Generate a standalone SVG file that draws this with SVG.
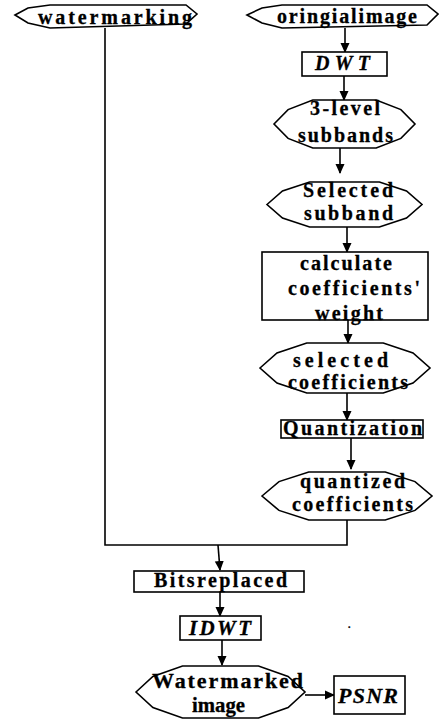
<svg xmlns="http://www.w3.org/2000/svg" width="439" height="720" viewBox="0 0 439 720">
<style>
.s{fill:#fff;stroke:#000;stroke-width:1.6}
.t{font-family:"Liberation Serif","Times New Roman",serif;font-weight:bold;font-size:20px;fill:#000;stroke:#000;stroke-width:0.3}
.i{font-style:italic}
.c{fill:none;stroke:#000;stroke-width:1.6}
</style>
<defs>
<marker id="ah" markerUnits="userSpaceOnUse" markerWidth="10" markerHeight="10" refX="9" refY="5" orient="auto">
<path d="M0,0.5 L10,5 L0,9.5 Z" fill="#000"/>
</marker>
</defs>
<rect width="439" height="720" fill="#fff"/>
<g id="connectors">
<line class="c" x1="345" y1="28" x2="345" y2="52" marker-end="url(#ah)"/>
<line class="c" x1="344" y1="76" x2="344" y2="100" marker-end="url(#ah)"/>
<line class="c" x1="340" y1="148" x2="340" y2="173" marker-end="url(#ah)"/>
<line class="c" x1="347" y1="227" x2="347" y2="252" marker-end="url(#ah)"/>
<line class="c" x1="348" y1="320" x2="348" y2="343" marker-end="url(#ah)"/>
<line class="c" x1="347" y1="393" x2="347" y2="420" marker-end="url(#ah)"/>
<line class="c" x1="351" y1="438" x2="351" y2="469" marker-end="url(#ah)"/>
<polyline class="c" points="347,520 347,545 105,545 105,28"/>
<line class="c" x1="218" y1="545" x2="220" y2="570" marker-end="url(#ah)"/>
<line class="c" x1="220" y1="592" x2="220" y2="616" marker-end="url(#ah)"/>
<line class="c" x1="222" y1="640" x2="222" y2="665" marker-end="url(#ah)"/>
<line class="c" x1="305" y1="695" x2="334" y2="695" marker-end="url(#ah)"/>
</g>
<g id="watermarking">
<polygon class="s" points="15,15 28,8 50,5 186,5 197,14 186,24 50,28 28,23"/>
<text class="t" x="38" y="24" textLength="154" lengthAdjust="spacing">watermarking</text>
</g>
<g id="oringialimage">
<polygon class="s" points="247,15 262,8 282,5 427,5 438,14 427,25 282,28 262,23"/>
<text class="t" x="277" y="23" textLength="140" lengthAdjust="spacing">oringialimage</text>
</g>
<g id="dwt">
<rect class="s" x="302" y="52" width="85" height="24"/>
<text class="t i" x="315" y="70" textLength="55" lengthAdjust="spacing">DWT</text>
</g>
<g id="subbands3">
<polygon class="s" points="274,124 288.1,109.6 312.8,100 376.2,100 400.9,109.6 415,124 400.9,138.4 376.2,148 312.8,148 288.1,138.4"/>
<text class="t" x="310" y="115" textLength="70" lengthAdjust="spacing">3-level</text>
<text class="t" x="298" y="142" textLength="95" lengthAdjust="spacing">subbands</text>
</g>
<g id="selectedsubband">
<polygon class="s" points="267,204.5 282.5,191 309.6,182 379.4,182 406.5,191 422,204.5 406.5,218 379.4,227 309.6,227 282.5,218"/>
<text class="t" x="303" y="197" textLength="90" lengthAdjust="spacing">Selected</text>
<text class="t" x="304" y="220" textLength="89" lengthAdjust="spacing">subband</text>
</g>
<g id="calculate">
<rect class="s" x="262" y="252" width="166" height="68"/>
<text class="t" x="300" y="270" textLength="92" lengthAdjust="spacing">calculate</text>
<text class="t" x="288" y="295" textLength="132" lengthAdjust="spacing">coefficients'</text>
<text class="t" x="315" y="320" textLength="68" lengthAdjust="spacing">weight</text>
</g>
<g id="selectedcoefficients">
<polygon class="s" points="260,368 277,353 306.75,343 383.25,343 413,353 430,368 413,383 383.25,393 306.75,393 277,383"/>
<text class="t" x="293" y="367" textLength="95" lengthAdjust="spacing">selected</text>
<text class="t" x="288" y="389" textLength="120" lengthAdjust="spacing">coefficients</text>
</g>
<g id="quantization">
<rect class="s" x="281" y="420" width="142" height="18"/>
<text class="t" x="283" y="435" textLength="139" lengthAdjust="spacing">Quantization</text>
</g>
<g id="quantizedcoefficients">
<polygon class="s" points="262,496 279,481.6 308.75,472 385.25,472 415,481.6 432,496 415,510.4 385.25,520 308.75,520 279,510.4"/>
<text class="t" x="300" y="488" textLength="105" lengthAdjust="spacing">quantized</text>
<text class="t" x="292" y="511" textLength="121" lengthAdjust="spacing">coefficients</text>
</g>
<g id="bitsreplaced">
<rect class="s" x="134" y="571" width="170" height="21"/>
<text class="t" x="154" y="587" textLength="133" lengthAdjust="spacing">Bitsreplaced</text>
</g>
<g id="idwt">
<rect class="s" x="180" y="616" width="81" height="24"/>
<text class="t i" x="189" y="635" textLength="62" lengthAdjust="spacing" style="font-size:21px">IDWT</text>
</g>
<g id="watermarkedimage">
<polygon class="s" points="136,692 152.9,676.4 182.5,666 258.5,666 288.1,676.4 305,692 288.1,707.6 258.5,718 182.5,718 152.9,707.6"/>
<text class="t" x="152" y="688" textLength="151" lengthAdjust="spacing" style="font-size:22px">Watermarked</text>
<text class="t" x="192" y="712" textLength="53" lengthAdjust="spacingAndGlyphs">image</text>
</g>
<g id="psnr">
<rect class="s" x="334" y="676" width="71" height="38"/>
<text class="t i" x="338" y="703" textLength="60" lengthAdjust="spacing" style="font-size:22px">PSNR</text>
</g>
<text class="t" x="348" y="628" style="font-size:10px">.</text>
</svg>
